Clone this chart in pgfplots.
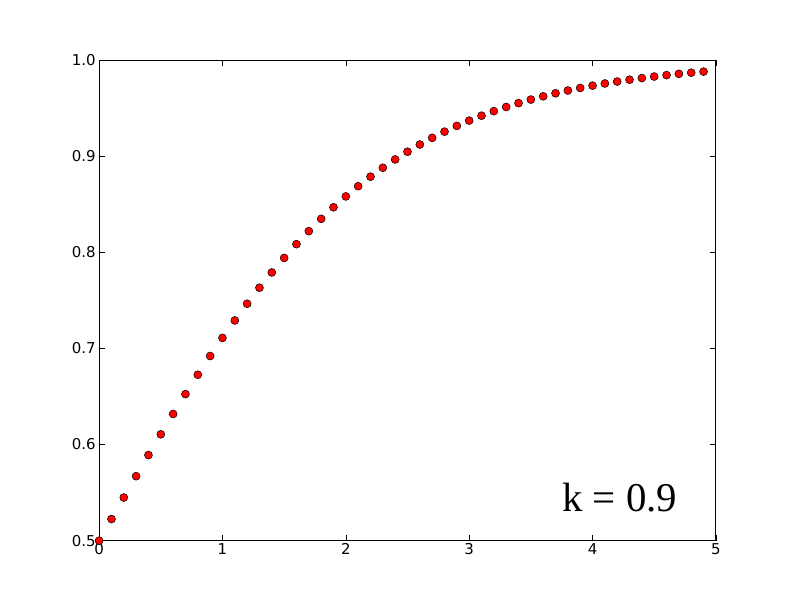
\documentclass[border=0pt]{standalone}
\usepackage{pgfplots}
\pgfplotsset{compat=1.18}
\usepackage{fontspec}
\setmainfont{DejaVu Sans}
\newfontfamily\serifk{Liberation Serif}
\begin{document}
\begin{tikzpicture}[x=1bp,y=1bp]
\begin{axis}[
  scale only axis, width=616bp, height=480bp,
  xmin=0, xmax=5, ymin=0.5, ymax=1.0,
  xtick={0,1,2,3,4,5}, ytick={0.5,0.6,0.7,0.8,0.9,1.0},
  yticklabel style={/pgf/number format/fixed,/pgf/number format/fixed zerofill,/pgf/number format/precision=1},
  /pgf/number format/assume math mode=true,
  tick align=inside, major tick length=6bp,
  tick label style={font=\fontsize{15}{17}\selectfont},
  xticklabel style={yshift=1bp},
  axis line style={line width=1pt}, tick style={black, line width=0.6pt},
  clip=false,
]
\addplot[only marks, mark=*, mark size=4bp, mark options={fill=red, draw=black, line width=0.5pt}] coordinates {
(0.0,0.50000)(0.1,0.52248)(0.2,0.54488)(0.3,0.56709)(0.4,0.58904)
(0.5,0.61064)(0.6,0.63181)(0.7,0.65248)(0.8,0.67261)(0.9,0.69211)
(1.0,0.71095)(1.1,0.72909)(1.2,0.74650)(1.3,0.76314)(1.4,0.77903)
(1.5,0.79413)(1.6,0.80845)(1.7,0.82201)(1.8,0.83480)(1.9,0.84684)
(2.0,0.85815)(2.1,0.86876)(2.2,0.87868)(2.3,0.88795)(2.4,0.89660)
(2.5,0.90465)(2.6,0.91214)(2.7,0.91909)(2.8,0.92553)(2.9,0.93150)
(3.0,0.93703)(3.1,0.94213)(3.2,0.94685)(3.3,0.95120)(3.4,0.95521)
(3.5,0.95891)(3.6,0.96231)(3.7,0.96545)(3.8,0.96833)(3.9,0.97097)
(4.0,0.97340)(4.1,0.97564)(4.2,0.97768)(4.3,0.97957)(4.4,0.98129)
(4.5,0.98288)(4.6,0.98433)(4.7,0.98566)(4.8,0.98688)(4.9,0.98799)
};
\node[anchor=base, font=\serifk\fontsize{41}{45}\selectfont] at (axis cs:4.22,0.5302) {k = 0.9};
\path[use as bounding box] (rel axis cs:-0.1607,-0.125) rectangle (rel axis cs:1.1283,1.125);
\end{axis}
\end{tikzpicture}
\end{document}
